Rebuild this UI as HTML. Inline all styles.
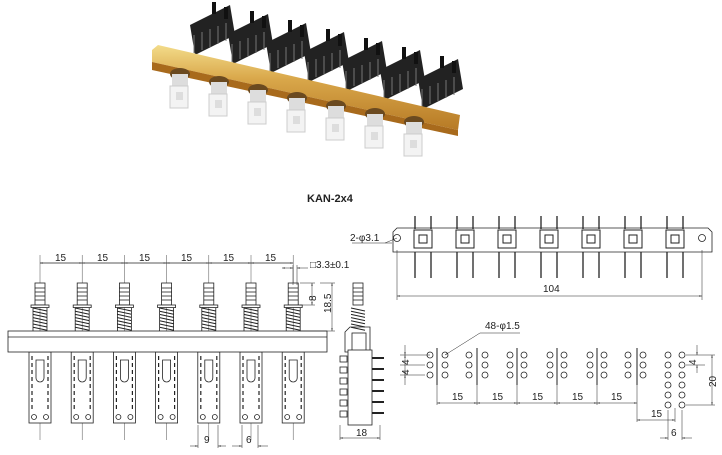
<!DOCTYPE html>
<html><head><meta charset="utf-8"><style>
html,body{margin:0;padding:0;background:#fff;width:722px;height:455px;overflow:hidden}
svg{display:block}
text{font-family:"Liberation Sans",sans-serif;font-size:10px;fill:#222}
</style></head><body>
<svg id="s" width="722" height="455" viewBox="0 0 722 455" xmlns="http://www.w3.org/2000/svg">
<defs>
<linearGradient id="gold" x1="0" y1="0" x2="0" y2="1"><stop offset="0" stop-color="#f3dc8a"/><stop offset="0.4" stop-color="#d9a74a"/><stop offset="1" stop-color="#b77a25"/></linearGradient>
<marker id="a" viewBox="0 0 10 10" refX="10" refY="5" markerWidth="6" markerHeight="6" orient="auto-start-reverse"><path d="M0,3 L10,5 L0,7z" fill="#222"/></marker>
</defs>
<g id="photo"></g>
<text x="307" y="202" style="font-weight:bold;font-size:11px">KAN-2x4</text>
<g id="draw" stroke="#222" fill="none" stroke-width="0.8"></g>
<!-- labels -->
<text x="55" y="261">15</text><text x="97" y="261">15</text><text x="139" y="261">15</text><text x="181" y="261">15</text><text x="223" y="261">15</text><text x="265" y="261">15</text>
<text x="310" y="268">□3.3±0.1</text>
<text x="316" y="301" transform="rotate(-90 316 301)">8</text>
<text x="331" y="313" transform="rotate(-90 331 313)">18.5</text>
<text x="204" y="443">9</text><text x="246" y="443">6</text>
<text x="356" y="436">18</text>
<text x="350" y="241">2-φ3.1</text>
<text x="543" y="292">104</text>
<text x="485" y="329">48-φ1.5</text>
<text x="409" y="365" transform="rotate(-90 409 365)">4</text>
<text x="409" y="375" transform="rotate(-90 409 375)">4</text>
<text x="452" y="400">15</text><text x="492" y="400">15</text><text x="532" y="400">15</text><text x="572" y="400">15</text><text x="611" y="400">15</text>
<text x="651" y="417">15</text><text x="671" y="436">6</text>
<text x="696" y="365" transform="rotate(-90 696 365)">4</text>
<text x="716" y="387" transform="rotate(-90 716 387)">20</text>
</svg>
<script>
const NS="http://www.w3.org/2000/svg";
function el(p,t,a){const e=document.createElementNS(NS,t);for(const k in a)e.setAttribute(k,a[k]);p.appendChild(e);return e;}
const d=document.getElementById('draw'),ph=document.getElementById('photo');
const L=(x1,y1,x2,y2,o={})=>el(d,'line',Object.assign({x1,y1,x2,y2},o));
const R=(x,y,w,h,o={})=>el(d,'rect',Object.assign({x,y,width:w,height:h},o));
const C=(cx,cy,r,o={})=>el(d,'circle',Object.assign({cx,cy,r},o));
const thin={'stroke-width':0.5};
const arr={'stroke-width':0.5,'marker-start':'url(#a)','marker-end':'url(#a)'};
// photo
for(let i=0;i<7;i++){
 const x=190+i*38,y=5+i*9;
 el(ph,'polygon',{points:`${x},${y+20} ${x+40},${y} ${x+45},${y+30} ${x+5},${y+50}`,fill:'#222'});
 el(ph,'rect',{x:x+22,y:y-3,width:4,height:12,fill:'#111'});
 el(ph,'rect',{x:x+34,y:y+2,width:4,height:12,fill:'#111'});
 for(let j=0;j<5;j++)el(ph,'line',{x1:x+4+j*8,y1:y+30-j*3,x2:x+4+j*8,y2:y+48-j*3,stroke:'#777','stroke-width':1});
}
el(ph,'polygon',{points:"152,50 158,45 460,115 458,130 152,62",fill:'url(#gold)'});
el(ph,'polygon',{points:"152,62 458,130 458,136 152,70",fill:'#a86a1c'});
for(let i=0;i<7;i++){
 const x=172+i*39,y=80+i*8;
 el(ph,'ellipse',{cx:x+8,cy:y-6,rx:10,ry:6,fill:'#6b4a20'});
 el(ph,'rect',{x:x,y:y-6,width:16,height:14,fill:'#ddd'});
 el(ph,'rect',{x:x-2,y:y+6,width:18,height:22,fill:'#f3f3f3',stroke:'#ccc','stroke-width':1});
 el(ph,'rect',{x:x+4,y:y+12,width:7,height:8,fill:'#ddd'});
}
// front view
L(40,263,293,263,thin);
for(let i=0;i<7;i++){
 const cx=40+i*42.2;
 L(cx,255,cx,440,{'stroke-width':0.4});
 if(i<6)L(cx,263,cx+42.2,263,arr);
 R(cx-5,283,10,22,{fill:'#fff'});
 for(const yy of[288,292,296,300])L(cx-5,yy,cx+5,yy);
 R(cx-9,305,18,2.5,{fill:'#fff'});
 for(let k=0;k<7;k++)L(cx-7,308+k*3.2,cx+7,311+k*3.2,{'stroke-width':1});
 L(cx-7,308,cx-7,331);L(cx+7,308,cx+7,331);
 R(cx-11,352,22,71,{fill:'#fff'});
 for(let k=0;k<8;k++){L(cx-8,356+k*7,cx-8,360+k*7,{'stroke-width':1.2});L(cx+8,356+k*7,cx+8,360+k*7,{'stroke-width':1.2});}
 el(d,'path',{d:`M${cx-4},360 v18 a4,4 0 0 0 8,0 v-18z`});
 C(cx-6,417,2.5);C(cx+6,417,2.5);
}
R(8,331,319,21,{fill:'#fff'});L(8,337,327,337);
L(293,265,293,285,thin);L(297,265,297,285,thin);L(282,268,293,268,arr);L(297,268,308,268,{'stroke-width':0.5,'marker-start':'url(#a)'});
L(300,283,315,283,thin);L(300,305,315,305,thin);L(312,283,312,305,arr);
L(320,283,335,283,thin);L(300,331,335,331,thin);L(332,283,332,331,arr);
L(198,425,198,448,thin);L(218,425,218,448,thin);L(190,446,198,446,{'stroke-width':0.5,'marker-end':'url(#a)'});L(218,446,226,446,{'stroke-width':0.5,'marker-start':'url(#a)'});
L(242,425,242,448,thin);L(258,425,258,448,thin);L(232,446,242,446,{'stroke-width':0.5,'marker-end':'url(#a)'});L(258,446,268,446,{'stroke-width':0.5,'marker-start':'url(#a)'});
// side view
R(353,283,10,22,{fill:'#fff'});for(const yy of[288,292,296,300])L(353,yy,363,yy);
for(let k=0;k<7;k++)L(351,308+k*3.2,365,311+k*3.2,{'stroke-width':1});
el(d,'path',{d:"M345,342 v-10 l5,-5 h20 v25 h-25z"});R(352,333,14,18);
R(348,350,24,75,{fill:'#fff'});
for(let k=0;k<6;k++){R(340,356+k*11,7,6);L(372,358+k*11,384,358+k*11,{'stroke-width':2})}
L(340,425,340,440,thin);L(380,425,380,440,thin);L(340,438,380,438,arr);
// top view
el(d,'path',{d:"M393,232 l4,-4 h311 l4,4 v20 h-319z",fill:'#fff'});
C(397,238,3.5);C(702,238,3.5);L(352,243,392,243,thin);L(385,243,397,238,thin);
for(let i=0;i<7;i++){
 const cx=423+i*42;
 for(const dx of[-8,8]){L(cx+dx,216,cx+dx,229,{'stroke-width':1.3});L(cx+dx,252,cx+dx,278,{'stroke-width':1.3});}
 R(cx-9,230,18,18,{fill:'#fff','stroke-width':1});R(cx-4,235,8,8,{'stroke-width':1});
}
L(397,250,397,300,thin);L(702,250,702,300,thin);L(397,296,702,296,arr);
// hole pattern
const pairs=[[430,445],[469,485],[510,524],[550,564],[590,604],[628,643]];
for(const [a,b] of pairs)for(const y of[355,365,375]){C(a,y,3);C(b,y,3);}
for(let y=355;y<=405;y+=10){C(668,y,3);C(682,y,3);}
for(const x of[437,477,517,557,597,637])L(x,348,x,385,{'stroke-width':1});
for(const x of[437,477,517,557,597,637])L(x,385,x,405,thin);
for(let i=0;i<5;i++)L(437+i*40,403,477+i*40,403,arr);
L(637,405,637,422,thin);L(675,408,675,422,thin);L(637,420,675,420,arr);
L(668,410,668,440,thin);L(682,410,682,440,thin);L(660,438,668,438,{'stroke-width':0.5,'marker-end':'url(#a)'});L(682,438,692,438,{'stroke-width':0.5,'marker-start':'url(#a)'});
L(400,355,430,355,thin);L(400,365,425,365,thin);L(400,375,425,375,thin);
L(405,345,405,355,{'stroke-width':0.5,'marker-end':'url(#a)'});L(405,355,405,375,arr);L(405,375,405,385,{'stroke-width':0.5,'marker-start':'url(#a)'});
L(686,355,715,355,thin);L(686,365,705,365,thin);L(686,405,715,405,thin);
L(697,345,697,355,{'stroke-width':0.5,'marker-end':'url(#a)'});L(697,365,697,373,{'stroke-width':0.5,'marker-start':'url(#a)'});
L(712,355,712,405,arr);
L(445,355,480,333,{'stroke-width':0.5,'marker-start':'url(#a)'});L(480,333,520,333,thin);
</script>
</body></html>
